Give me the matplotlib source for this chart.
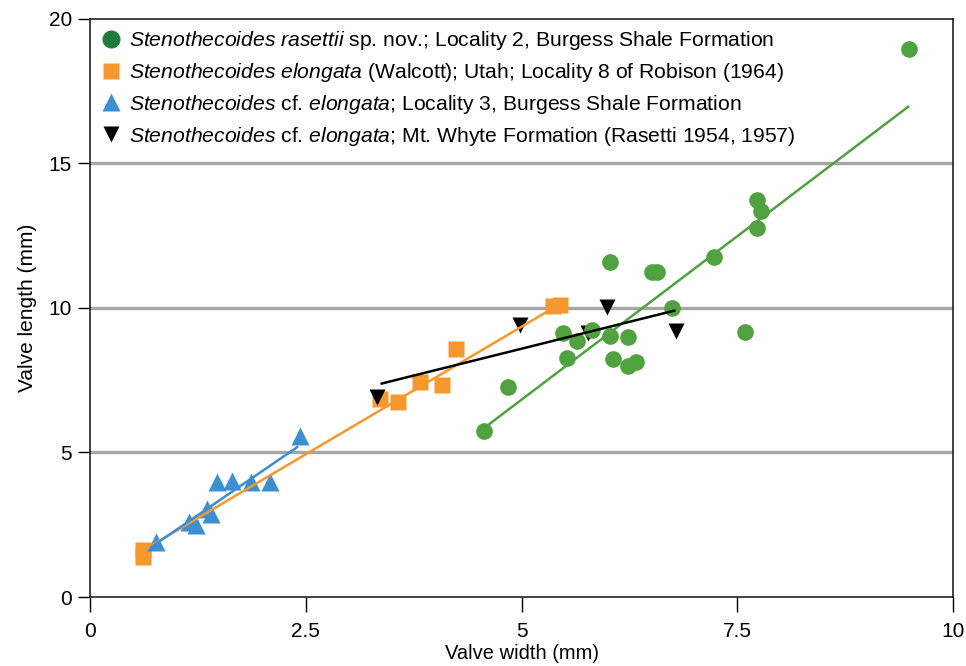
import matplotlib
matplotlib.use('Agg')
import matplotlib.pyplot as plt
from matplotlib.lines import Line2D

plt.rcParams['font.family'] = ['Liberation Sans', 'DejaVu Sans']
plt.rcParams['mathtext.fontset'] = 'custom'
plt.rcParams['mathtext.rm'] = 'Liberation Sans'
plt.rcParams['mathtext.it'] = 'Liberation Sans:italic'

# ---- data (valve width, valve length in mm) ----
rasettii_w = [4.57, 4.84, 5.48, 5.64, 5.82, 6.02, 6.23, 5.53, 6.06, 6.23, 6.33,
              6.74, 6.02, 6.51, 6.57, 7.23, 7.59, 7.73, 7.77, 7.73, 9.49]
rasettii_l = [5.75, 7.25, 9.13, 8.84, 9.24, 9.02, 8.98, 8.27, 8.22, 7.98, 8.12,
              10.0, 11.58, 11.22, 11.24, 11.75, 9.15, 13.72, 13.35, 12.75, 18.95]

elongata_w = [0.61, 0.61, 3.36, 3.57, 3.82, 4.08, 4.24, 5.36, 5.45]
elongata_l = [1.63, 1.38, 6.85, 6.73, 7.44, 7.32, 8.58, 10.05, 10.1]

cf_loc3_w = [0.77, 1.15, 1.23, 1.36, 1.40, 1.47, 1.65, 1.87, 2.08, 2.43]
cf_loc3_l = [1.90, 2.60, 2.48, 3.05, 2.86, 3.96, 4.00, 3.98, 3.96, 5.55]

cf_whyte_w = [3.32, 4.98, 5.77, 5.99, 6.79]
cf_whyte_l = [6.92, 9.42, 9.12, 10.02, 9.18]

# trend lines (endpoints, data units)
fit_ras_x, fit_ras_y = [4.57, 9.48], [5.85, 16.95]
fit_elo_x, fit_elo_y = [0.62, 5.40], [1.62, 10.05]
fit_loc3_x, fit_loc3_y = [0.71, 2.40], [1.73, 5.18]
fit_why_x, fit_why_y = [3.38, 6.77], [7.38, 9.90]

grid_levels = [5, 10, 15]
x_ticks = [0, 2.5, 5, 7.5, 10]
x_tick_labels = ['0', '2.5', '5', '7.5', '10']
y_ticks = [0, 5, 10, 15, 20]

labels = [
    r'$\mathit{Stenothecoides\ rasettii}$ sp. nov.; Locality 2, Burgess Shale Formation',
    r'$\mathit{Stenothecoides\ elongata}$ (Walcott); Utah; Locality 8 of Robison (1964)',
    r'$\mathit{Stenothecoides}$ cf. $\mathit{elongata}$; Locality 3, Burgess Shale Formation',
    r'$\mathit{Stenothecoides}$ cf. $\mathit{elongata}$; Mt. Whyte Formation (Rasetti 1954, 1957)',
]

GREEN = '#4fa23f'
GREEN_LEG = '#1e7b3a'
ORANGE = '#f5992f'
BLUE = '#3b8fd2'
BLACK = '#000000'

fig = plt.figure(figsize=(9.66, 6.66), dpi=100)
ax = fig.add_axes([0.0932, 0.1036, 0.8934, 0.8686])

for g in grid_levels:
    ax.axhline(g, color='#a6a6a6', lw=2.4, zorder=1)

ax.plot(elongata_w, elongata_l, 's', color=ORANGE, ms=11.5, mec='none', zorder=3)
ax.plot(cf_loc3_w, cf_loc3_l, '^', color=BLUE, ms=13, mec='none', zorder=3)
ax.plot(cf_whyte_w, cf_whyte_l, 'v', color=BLACK, ms=11, mec='none', zorder=4)
ax.plot(rasettii_w, rasettii_l, 'o', color=GREEN, ms=12, mec='none', zorder=5)

ax.plot(fit_ras_x, fit_ras_y, '-', color=GREEN, lw=1.8, zorder=6)
ax.plot(fit_elo_x, fit_elo_y, '-', color=ORANGE, lw=1.8, zorder=6)
ax.plot(fit_loc3_x, fit_loc3_y, '-', color=BLUE, lw=1.8, zorder=6)
ax.plot(fit_why_x, fit_why_y, '-', color=BLACK, lw=1.8, zorder=6)

ax.set_xlim(0, 10)
ax.set_ylim(0, 20)
ax.set_xticks(x_ticks)
ax.set_xticklabels(x_tick_labels)
ax.set_yticks(y_ticks)
ax.tick_params(axis='x', length=11, width=1, direction='out', labelsize=15, pad=7)
ax.tick_params(axis='y', length=9, width=1, direction='out', labelsize=15, pad=4)
for s in ax.spines.values():
    s.set_linewidth(1.2)
    s.set_color('#222222')

ax.set_xlabel('Valve width (mm)', fontsize=14.5, labelpad=2)
ax.set_ylabel('Valve length (mm)', fontsize=15, labelpad=8)

handles = [
    Line2D([], [], marker='o', ls='none', color=GREEN_LEG, ms=13, mec='none'),
    Line2D([], [], marker='s', ls='none', color=ORANGE, ms=12, mec='none'),
    Line2D([], [], marker='^', ls='none', color=BLUE, ms=13, mec='none'),
    Line2D([], [], marker='v', ls='none', color=BLACK, ms=12, mec='none'),
]
ax.legend(handles, labels, loc='upper left', bbox_to_anchor=(0.0, 1.0), frameon=False,
          fontsize=15.2, handlelength=1.0, handletextpad=0.35, labelspacing=0.42,
          borderaxespad=0.2, borderpad=0.3)

fig.savefig('out.png', dpi=100)
